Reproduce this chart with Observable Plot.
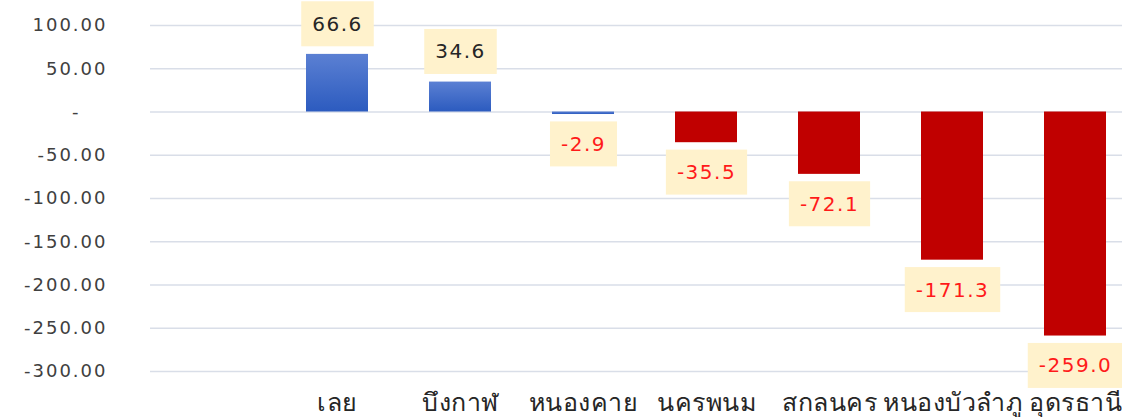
<!DOCTYPE html>
<html>
<head>
<meta charset="utf-8">
<script src="https://cdn.jsdelivr.net/npm/d3@7"></script>
<script src="https://cdn.jsdelivr.net/npm/@observablehq/plot@0.6"></script>
<style>
  html, body { margin: 0; padding: 0; background: #fff; }
  svg { display: block; }
</style>
</head>
<body>
<div id="chart"></div>
<script>
// Data
const provinces = ["เลย", "บึงกาฬ", "หนองคาย", "นครพนม", "สกลนคร", "หนองบัวลำภู", "อุดรธานี"];
const values = [66.6, 34.6, -2.9, -35.5, -72.1, -171.3, -259.0];
const yTicks = [100, 50, 0, -50, -100, -150, -200, -250, -300];

const xDomain = [" ", ...provinces]; // leading empty slot, as in the reference
const data = provinces.map((p, i) => ({ name: p, value: values[i] }));

const tickFormat = d => d === 0 ? "-\u2007\u2007" : d.toFixed(2);
const FONT = "'DejaVu Sans', Tahoma, Verdana, sans-serif";

const plot = Plot.plot({
  width: 1122,
  height: 417,
  marginLeft: 150,
  marginRight: 0,
  marginTop: 25,
  marginBottom: 46,
  style: { fontFamily: FONT, background: "#fff" },
  x: { domain: xDomain, range: [150, 1139], paddingInner: 0.5, paddingOuter: 0.25, align: 0.5, axis: null },
  y: { domain: [-300, 100], axis: null },
  marks: [
    Plot.gridY(yTicks, { stroke: "#d9dee8", strokeOpacity: 1, strokeWidth: 1.5 }),
    Plot.axisY(yTicks, {
      label: null,
      tickSize: 0, tickPadding: 43, tickFormat,
      fontSize: 18, fill: "#404040", fontFamily: FONT
    }),
    Plot.barY(data, {
      x: "name", y: "value",
      fill: d => d.value > -10 ? "url(#blueGrad)" : "#c00000"
    }),
    Plot.text(data.filter(d => d.value >= 0), {
      x: "name", y: "value", dy: -30,
      text: d => d.value.toFixed(1),
      fill: "#262626", fontSize: 20, fontFamily: FONT
    }),
    Plot.text(data.filter(d => d.value < 0), {
      x: "name", y: "value", dy: 30,
      text: d => d.value.toFixed(1),
      fill: "#ff1a1a", fontSize: 20, fontFamily: FONT
    }),
    Plot.axisX({
      label: null,
      tickSize: 0, tickPadding: 22,
      fontSize: 25, fill: "#262626"
    })
  ]
});

document.getElementById("chart").appendChild(plot);

const svg = d3.select(plot);
// gradient for the blue bars
const defs = svg.insert("defs", ":first-child");
const grad = defs.append("linearGradient")
  .attr("id", "blueGrad").attr("x1", 0).attr("y1", 0).attr("x2", 0).attr("y2", 1);
grad.append("stop").attr("offset", "0%").attr("stop-color", "#5b80d3");
grad.append("stop").attr("offset", "100%").attr("stop-color", "#2c5bbf");

const valueLabels = new Set(values.map(v => v.toFixed(1)));
const tickLabels = new Set(yTicks.map(tickFormat));
const provSet = new Set(provinces);

svg.selectAll("text").each(function () {
  const s = this.textContent;
  if (valueLabels.has(s)) {
    this.style.letterSpacing = "1.5px";
    const b = this.getBBox();
    const padX = 11, h = 45;
    const cy = b.y + b.height / 2;
    const rect = document.createElementNS("http://www.w3.org/2000/svg", "rect");
    rect.setAttribute("x", b.x - padX);
    rect.setAttribute("y", cy - h / 2);
    rect.setAttribute("width", b.width + 2 * padX);
    rect.setAttribute("height", h);
    rect.setAttribute("fill", "#fff2cc");
    rect.setAttribute("stroke", "none");
    const t = this.getAttribute("transform");
    if (t) rect.setAttribute("transform", t);
    this.parentNode.insertBefore(rect, this);
  } else if (tickLabels.has(s)) {
    this.style.letterSpacing = "2px";
  } else if (provSet.has(s)) {
    this.style.letterSpacing = "0.5px";
  }
});
</script>
</body>
</html>
